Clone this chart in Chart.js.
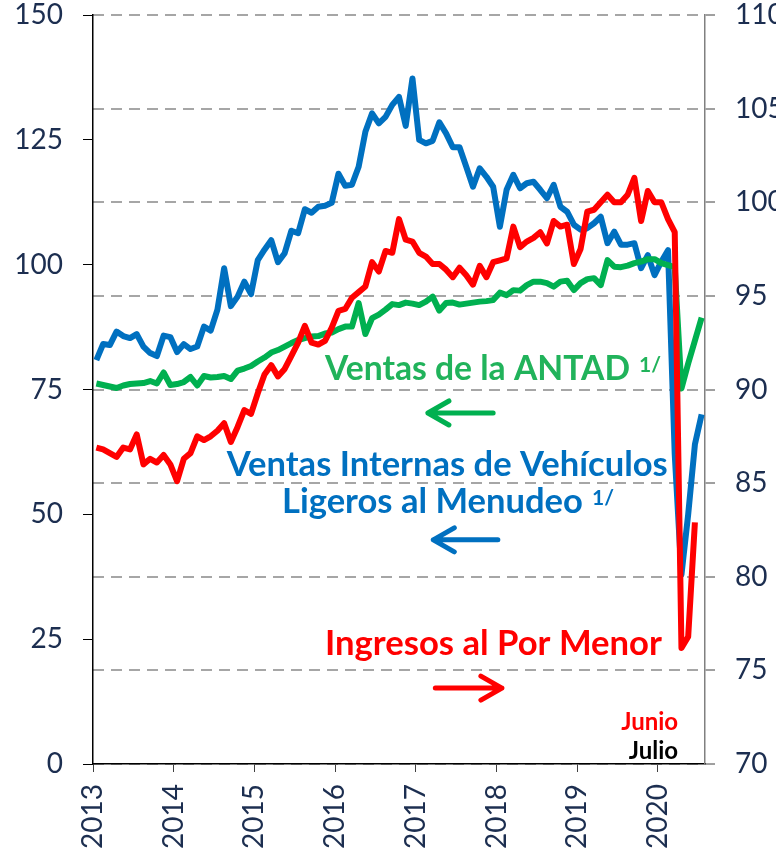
<!DOCTYPE html>
<html>
<head>
<meta charset="utf-8">
<script src="https://cdn.jsdelivr.net/npm/chart.js@4.4.1/dist/chart.umd.min.js"></script>
<style>
  html, body { margin: 0; padding: 0; background: #fff; }
  #wrap { width: 776px; height: 852px; }
</style>
</head>
<body>
<div id="wrap"><canvas id="chart" width="776" height="852"></canvas></div>
<script>
// monthly index, Jan 2013 .. Jul 2020
const startYear = 2013
const yearTicks = [0, 12, 24, 36, 48, 60, 72, 84]

// Ventas Internas de Vehiculos Ligeros al Menudeo (left axis)
const vehiculos = [
  80.9, 84.1, 83.9, 86.6, 85.7, 85.3, 86.1, 83.6, 82.3, 81.7, 85.8, 85.5,
  82.5, 84.1, 83.1, 83.6, 87.6, 86.8, 91.0, 99.3, 91.7, 93.6, 96.6, 94.1,
  100.9, 103.0, 104.9, 100.5, 102.3, 106.8, 106.3, 111.1, 110.4, 111.6, 111.8, 112.4,
  118.2, 115.8, 116.0, 119.6, 126.6, 130.3, 128.3, 129.6, 132.0, 133.6, 127.8, 137.3,
  125.0, 124.3, 124.8, 128.5, 126.3, 123.5, 123.5, 119.6, 115.6, 119.3, 117.6, 115.6,
  107.6, 115.0, 118.0, 115.3, 116.3, 116.6, 115.0, 113.3, 116.0, 111.6, 110.6, 108.0,
  107.0, 107.3, 108.3, 109.6, 104.3, 106.6, 104.0, 104.0, 104.3, 99.3, 101.9, 97.9,
  100.6, 102.9, 62.0, 37.9, 50.0, 64.0, 70.0
]

// Ventas de la ANTAD (left axis)
const antad = [
  76.2, 75.9, 75.6, 75.3, 75.8, 76.1, 76.2, 76.3, 76.7, 76.2, 78.4, 75.9,
  76.1, 76.5, 77.5, 75.8, 77.7, 77.4, 77.5, 77.7, 77.1, 78.8, 79.2, 79.7,
  80.6, 81.4, 82.4, 82.9, 83.6, 84.3, 84.9, 85.3, 85.6, 85.7, 86.2, 86.4,
  87.1, 87.6, 87.6, 92.3, 86.1, 89.3, 90.0, 91.0, 92.1, 91.9, 92.4, 92.2,
  91.9, 92.6, 93.6, 90.8, 92.3, 92.4, 92.0, 92.2, 92.4, 92.6, 92.7, 92.9,
  94.4, 93.9, 94.9, 94.8, 95.9, 96.6, 96.6, 96.3, 95.6, 96.6, 96.8, 94.9,
  96.3, 97.1, 97.3, 95.9, 100.9, 99.6, 99.5, 99.8, 100.3, 100.6, 101.1, 101.1,
  100.3, 99.9, 99.5, 75.2, 80.2, 84.8, 89.4
]

// Ingresos al Por Menor (right axis), to Jun 2020
const ingresos = [
  86.9, 86.8, 86.6, 86.4, 86.9, 86.8, 87.6, 86.0, 86.3, 86.1, 86.5, 86.0,
  85.1, 86.3, 86.6, 87.5, 87.3, 87.5, 87.8, 88.2, 87.2, 88.0, 88.9, 88.7,
  89.8, 90.8, 91.3, 90.7, 91.1, 91.8, 92.5, 93.4, 92.5, 92.4, 92.6, 93.3,
  94.2, 94.3, 94.9, 95.2, 95.5, 96.8, 96.3, 97.4, 97.3, 99.1, 98.0, 97.9,
  97.3, 97.1, 96.7, 96.7, 96.4, 96.0, 96.5, 96.1, 95.6, 96.6, 96.0, 96.8,
  96.9, 97.0, 98.7, 97.6, 97.9, 98.1, 98.4, 97.8, 99.0, 98.7, 98.8, 96.7,
  97.5, 99.5, 99.6, 100.0, 100.4, 100.0, 100.0, 100.4, 101.3, 99.0, 100.6, 100.0,
  100.0, 99.1, 98.4, 76.2, 76.8, 82.9
]

const navy = "#1c2e50"
const blue = "#0070c0"
const green = "#00b050"
const red = "#ff0000"
const tickFont = { family: "Lato", size: 28, lineHeight: 1 }

// each month is drawn in the middle of its slot
const toPoints = arr => arr.map((v, i) => ({ x: i + 0.5, y: v }))

const notes = [
  { text: "Ventas de la ANTAD", sup: "1/", color: "#21b35b", x: 34.5, y: 76.9, width: 305 },
  { text: "Ventas Internas de Vehículos", color: blue, x: 19.9, y: 57.7, width: 441 },
  { text: "Ligeros al Menudeo", sup: "1/", color: blue, x: 28.1, y: 50.3, width: 301 },
  { text: "Ingresos al Por Menor", color: red, x: 34.5, y: 21.8, width: 337 }
]

const arrows = [
  { color: green, from: 59.5, to: 49.8, y: 70.3 },
  { color: blue, from: 60.2, to: 50.6, y: 44.9 },
  { color: red, from: 50.9, to: 60.8, y: 15.2 }
]

const monthNotes = [
  { text: "Junio", color: red, x: 87.0, y: 6.8 },
  { text: "Julio", color: "#000", x: 87.0, y: 1.0 }
]

const annotations = {
  id: "annotations",
  afterDraw(chart) {
    const { ctx, scales: { x, y } } = chart
    ctx.save()
    ctx.textBaseline = "alphabetic"
    ctx.textAlign = "left"

    notes.forEach(n => {
      ctx.font = "bold 30px Lato"
      const size = 30 * n.width / ctx.measureText(n.text).width
      ctx.font = `bold ${size}px Lato`
      ctx.fillStyle = n.color
      const px = x.getPixelForValue(n.x)
      const py = y.getPixelForValue(n.y)
      ctx.fillText(n.text, px, py)
      if (n.sup) {
        ctx.font = "bold 21px Lato"
        ctx.fillText(n.sup, px + n.width + 9, py - 8)
      }
    })

    arrows.forEach(a => {
      const x1 = x.getPixelForValue(a.from)
      const x2 = x.getPixelForValue(a.to)
      const py = y.getPixelForValue(a.y)
      const dir = x2 > x1 ? 1 : -1
      ctx.strokeStyle = a.color
      ctx.lineWidth = 5
      ctx.lineCap = "round"
      ctx.lineJoin = "round"
      ctx.beginPath()
      ctx.moveTo(x1, py)
      ctx.lineTo(x2, py)
      ctx.moveTo(x2 - dir * 21, py - 12)
      ctx.lineTo(x2, py)
      ctx.lineTo(x2 - dir * 21, py + 12)
      ctx.stroke()
    })

    ctx.textAlign = "right"
    ctx.font = "bold 24px Lato"
    monthNotes.forEach(m => {
      ctx.fillStyle = m.color
      ctx.fillText(m.text, x.getPixelForValue(m.x), y.getPixelForValue(m.y))
    })
    ctx.restore()
  }
}

// fixed axis box sizes, no extra room above the top tick label
const fixVertical = width => scale => {
  scale.width = width
  scale.paddingTop = 0
  scale.paddingBottom = 0
}

new Chart(document.getElementById("chart"), {
  type: "line",
  data: {
    datasets: [
      { label: "Ingresos al Por Menor", data: toPoints(ingresos), yAxisID: "y1", borderColor: red },
      { label: "Ventas de la ANTAD", data: toPoints(antad), yAxisID: "y", borderColor: green },
      { label: "Ventas Internas de Vehículos Ligeros al Menudeo", data: toPoints(vehiculos), yAxisID: "y", borderColor: blue }
    ]
  },
  options: {
    responsive: false,
    animation: false,
    layout: { padding: { top: 15, left: 0, right: 0, bottom: 0 } },
    elements: {
      line: { borderWidth: 6, tension: 0, borderJoinStyle: "round", borderCapStyle: "butt" },
      point: { radius: 0 }
    },
    plugins: {
      legend: { display: false },
      tooltip: { enabled: false }
    },
    scales: {
      x: {
        type: "linear",
        position: "bottom",
        min: 0,
        max: 91,
        afterBuildTicks: scale => { scale.ticks = yearTicks.map(v => ({ value: v })) },
        afterFit: scale => { scale.height = 88 },
        ticks: {
          callback: v => String(startYear + v / 12),
          font: tickFont,
          color: navy,
          minRotation: 90,
          maxRotation: 90,
          autoSkip: false,
          padding: 12
        },
        grid: { drawOnChartArea: false, drawTicks: true, tickLength: 8, color: "#404040", lineWidth: 1 },
        border: { color: "#000", width: 1.5 }
      },
      y: {
        position: "left",
        min: 0,
        max: 150,
        afterFit: fixVertical(93),
        ticks: { stepSize: 25, font: tickFont, color: navy, padding: 20 },
        grid: { drawOnChartArea: false, drawTicks: true, tickLength: 10, color: "#000", lineWidth: 1 },
        border: { color: "#000", width: 1.5 }
      },
      y1: {
        position: "right",
        min: 70,
        max: 110,
        afterFit: fixVertical(71),
        ticks: { stepSize: 5, font: tickFont, color: navy, padding: 20 },
        grid: { color: "#a6a6a6", lineWidth: 2, tickColor: "#404040", tickWidth: 1, tickLength: 10 },
        border: { color: "#808080", width: 1.5, dash: [11, 7] }
      }
    }
  },
  plugins: [annotations]
})
</script>
</body>
</html>
